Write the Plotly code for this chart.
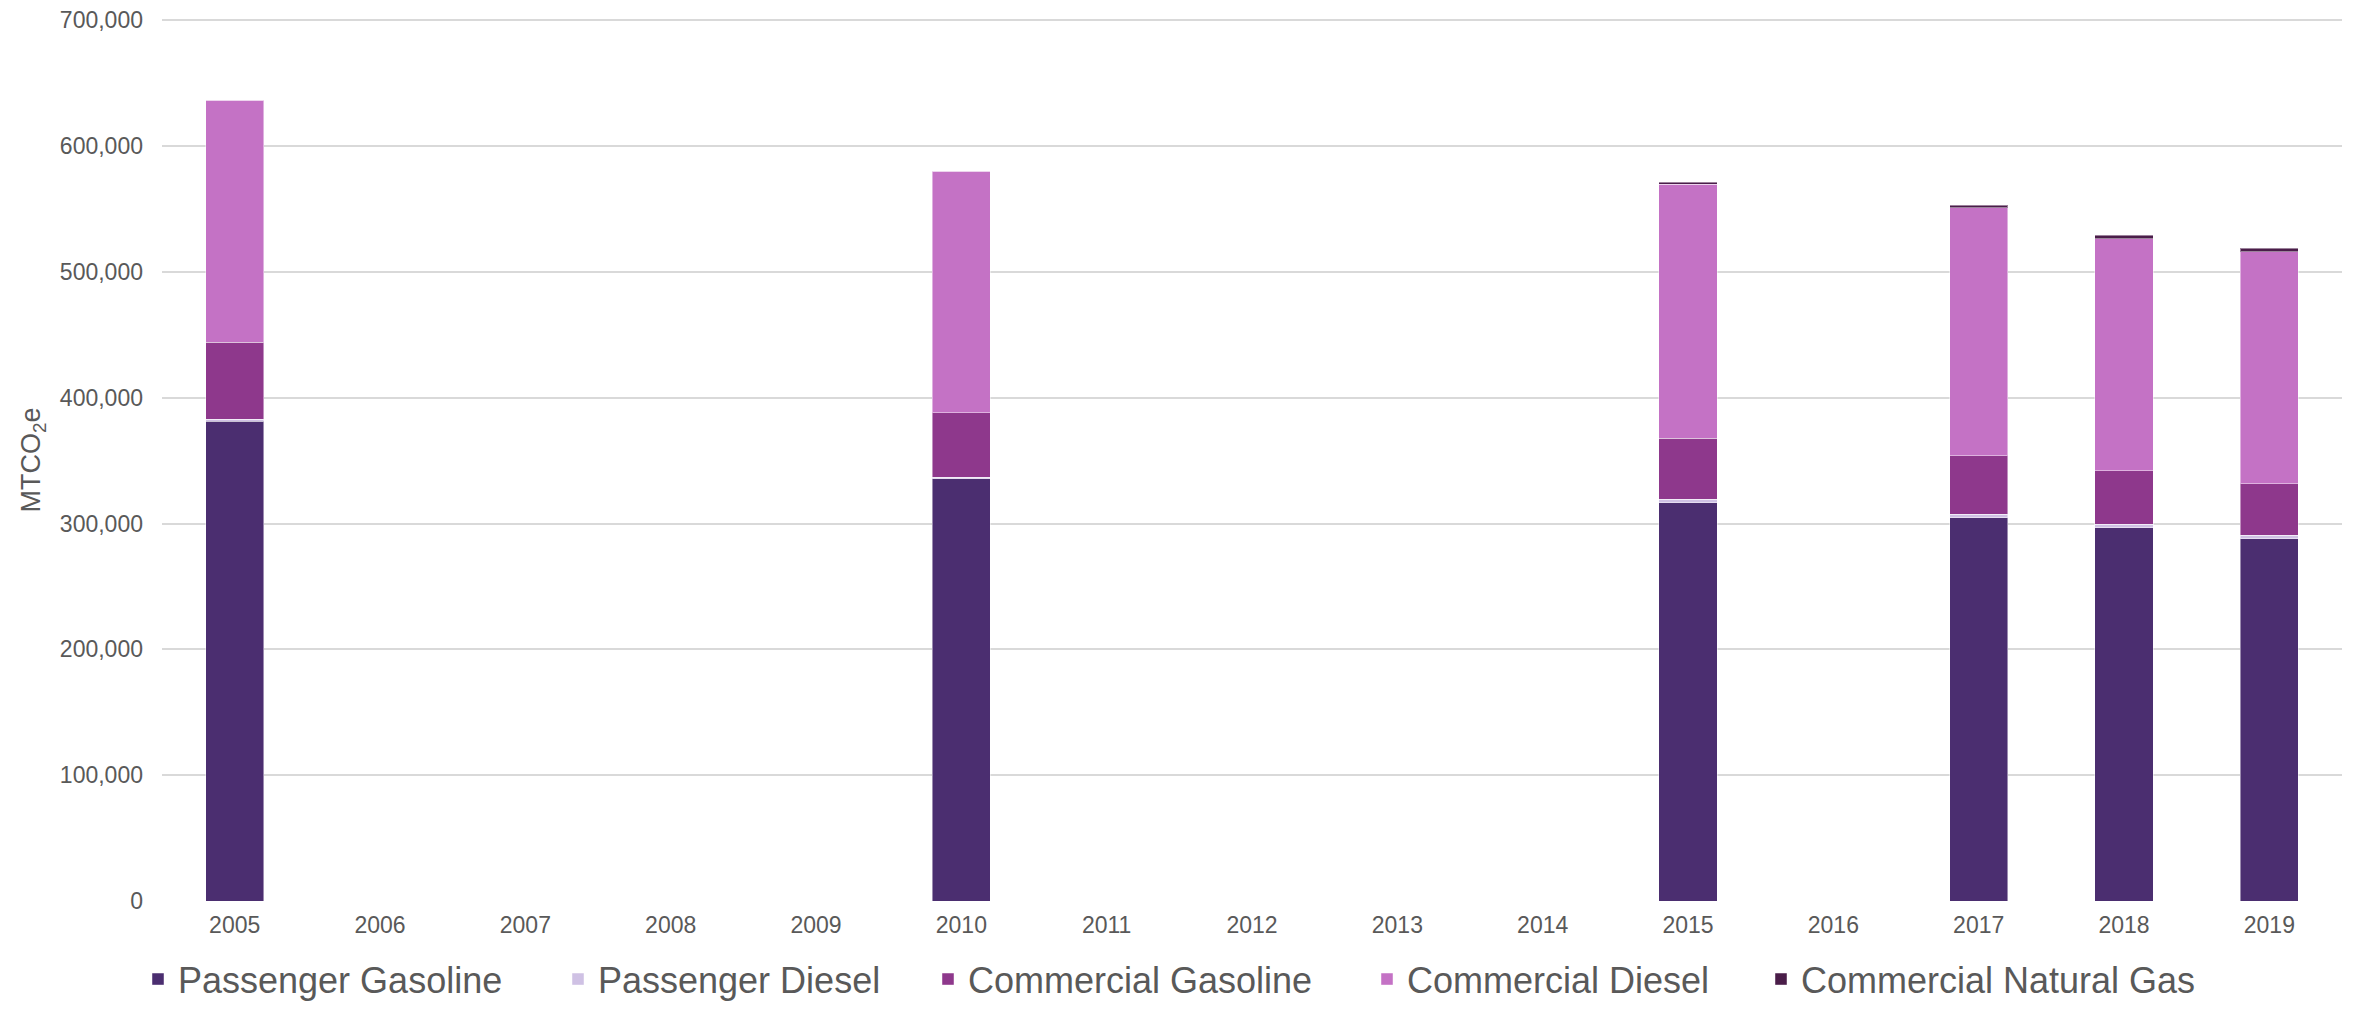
import plotly.graph_objects as go

years = ['2005', '2006', '2007', '2008', '2009', '2010', '2011', '2012', '2013',
         '2014', '2015', '2016', '2017', '2018', '2019']

passenger_gasoline = [381500, None, None, None, None, 335700, None, None, None, None,
                      316700, None, 304800, 296600, 288000]
passenger_diesel = [1200, None, None, None, None, 1000, None, None, None, None,
                    2700, None, 2600, 2900, 2700]
commercial_gasoline = [61300, None, None, None, None, 51400, None, None, None, None,
                       48200, None, 46500, 42500, 40900]
commercial_diesel = [192600, None, None, None, None, 191900, None, None, None, None,
                     202100, None, 197100, 184200, 184600]
commercial_natural_gas = [0, None, None, None, None, 0, None, None, None, None,
                          1600, None, 2000, 3000, 2600]

y_ticks = [0, 100000, 200000, 300000, 400000, 500000, 600000, 700000]

series = [
    ("Passenger Gasoline", passenger_gasoline, "#4B2E70"),
    ("Passenger Diesel", passenger_diesel, "#CFC1E4"),
    ("Commercial Gasoline", commercial_gasoline, "#8E388C"),
    ("Commercial Diesel", commercial_diesel, "#C472C5"),
    ("Commercial Natural Gas", commercial_natural_gas, "#4A1D49"),
]

FIG_W, FIG_H = 2343, 993
# left edge (px, figure coords) of each legend entry
legend_left_px = [130, 550, 920, 1359, 1753]

fig = go.Figure()
legend_layouts = {}
for i, (name, vals, color) in enumerate(series):
    lname = "legend" if i == 0 else f"legend{i + 1}"
    fig.add_trace(go.Bar(
        x=years, y=vals, name=name, legend=lname, showlegend=True,
        marker=dict(color=color, line=dict(color="rgba(255,255,255,0.45)", width=1)),
    ))
    legend_layouts[lname] = dict(
        orientation="h", xref="container", yref="container",
        x=legend_left_px[i] / FIG_W, xanchor="left",
        y=0.022, yanchor="middle",
        font=dict(family="Liberation Sans, Arial, sans-serif", size=36, color="#595959"),
        itemwidth=30, bgcolor="rgba(0,0,0,0)",
    )

fig.update_layout(
    showlegend=True,
    barmode="stack",
    bargap=0.6,
    width=FIG_W, height=FIG_H,
    paper_bgcolor="white", plot_bgcolor="white",
    margin=dict(l=154, r=9, t=11, b=100, autoexpand=False),
    font=dict(family="Liberation Sans, Arial, sans-serif", color="#595959"),
    xaxis=dict(
        type="category", categoryorder="array", categoryarray=years,
        showgrid=False, showline=False, zeroline=False,
        tickfont=dict(size=23, color="#595959"),
        ticks="", ticklabelstandoff=8, automargin=False,
    ),
    yaxis=dict(
        range=[0, 701000], tickvals=y_ticks, tickformat=",",
        showgrid=True, gridcolor="#d9d9d9", gridwidth=1.5,
        zeroline=False, showline=False,
        tickfont=dict(size=23, color="#595959"),
        ticks="", ticklabelstandoff=18, ticklabeloverflow="allow",
        automargin="left",
        title=dict(text="MTCO<sub>2</sub>e", font=dict(size=27, color="#595959"), standoff=11),
    ),
    **legend_layouts,
)

fig.write_html("out.html")
